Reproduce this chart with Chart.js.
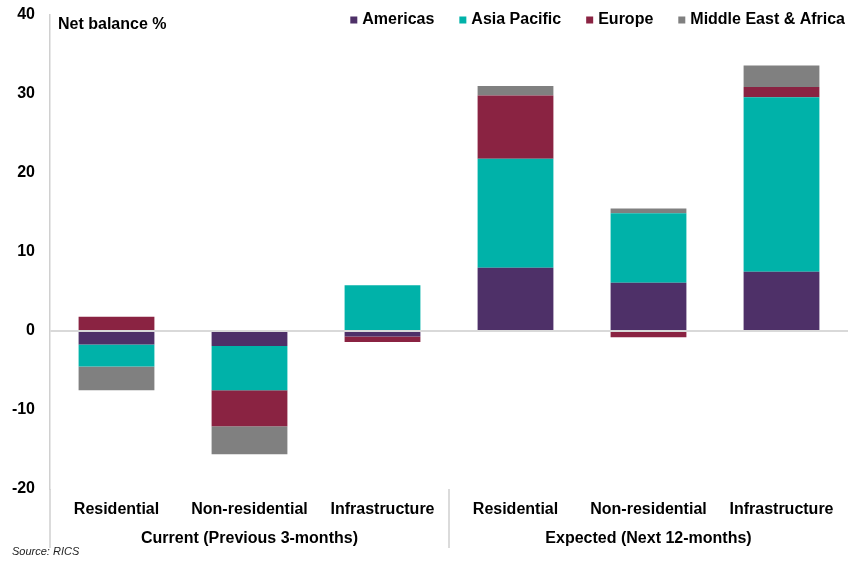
<!DOCTYPE html>
<html>
<head>
<meta charset="utf-8">
<script src="https://cdn.jsdelivr.net/npm/chart.js@4.4.1/dist/chart.umd.min.js"></script>
<style>
  html, body { margin: 0; padding: 0; background: #fff; }
  #wrap { width: 848px; height: 561px; }
</style>
</head>
<body>
<div id="wrap"><canvas id="rics_balance"></canvas></div>
<script>
// sectors on the first axis row, survey period on the second
const sectors = ['Residential', 'Non-residential', 'Infrastructure', 'Residential', 'Non-residential', 'Infrastructure'];
const periods = ['', 'Current (Previous 3-months)', '', '', 'Expected (Next 12-months)', ''];

// net balance % by region
const americas    = [-1.7, -1.9, -0.7, 8.0, 6.1, 7.5];
const asiaPacific = [-2.8, -5.6, 5.8, 13.8, 8.8, 22.1];
const europe      = [1.8, -4.55, -0.7, 8.0, -0.8, 1.3];
const meAfrica    = [-3.0, -3.55, 0, 1.2, 0.6, 2.7];

const yMin = -20, yMax = 40, yStep = 10;

const FONT = "'Liberation Sans', Arial, Helvetica, sans-serif";
Chart.defaults.font.family = FONT;
Chart.defaults.color = '#000';

// legend, y title, source note and the group divider lines
const extras = {
  id: 'extras',
  afterDraw(chart) {
    const c = chart.ctx;
    const area = chart.chartArea;
    c.save();

    // axis line runs down through the label rows, plus divider between the two periods
    c.strokeStyle = '#d0d0d0';
    c.lineWidth = 1.5;
    c.beginPath();
    c.moveTo(area.left, area.bottom);
    c.lineTo(area.left, 548);
    const mid = chart.scales.x.getPixelForValue(2.5);
    c.moveTo(mid, area.bottom);
    c.lineTo(mid, 548);
    c.stroke();

    c.fillStyle = '#000';
    c.textBaseline = 'middle';
    c.font = 'bold 16px ' + FONT;
    c.textAlign = 'left';
    c.fillText('Net balance %', 58, 25);

    // legend, laid out right to left
    let x = 845;
    const items = chart.data.datasets.slice().reverse();
    items.forEach(ds => {
      const w = c.measureText(ds.label).width;
      x -= w;
      c.fillStyle = '#000';
      c.fillText(ds.label, x, 20);
      c.fillStyle = ds.backgroundColor;
      c.fillRect(x - 12, 16.5, 7, 7);
      x -= 12 + 25;
    });

    c.fillStyle = '#222';
    c.font = 'italic 11px ' + FONT;
    c.fillText('Source: RICS', 12, 552);
    c.restore();
  }
};

new Chart(document.getElementById('rics_balance'), {
  type: 'bar',
  data: {
    labels: sectors,
    datasets: [
      { label: 'Americas', data: americas, backgroundColor: '#4e3068' },
      { label: 'Asia Pacific', data: asiaPacific, backgroundColor: '#00b2a9' },
      { label: 'Europe', data: europe, backgroundColor: '#8a2342' },
      { label: 'Middle East & Africa', data: meAfrica, backgroundColor: '#808080' }
    ]
  },
  options: {
    responsive: true,
    maintainAspectRatio: false,
    animation: false,
    layout: { padding: { top: 15, left: 12, right: 0, bottom: 14 } },
    datasets: { bar: { barPercentage: 0.57, categoryPercentage: 1, borderWidth: 0 } },
    plugins: { legend: { display: false }, tooltip: { enabled: false } },
    scales: {
      x: {
        stacked: true,
        weight: 0,
        grid: { display: false, drawTicks: false },
        border: { display: false },
        ticks: { font: { size: 16, weight: 'bold' }, color: '#000', padding: 11, maxRotation: 0, autoSkip: false },
        afterFit: s => { s.height = 30; s.paddingLeft = 0; s.paddingRight = 0; }
      },
      x2: {
        type: 'category',
        position: 'bottom',
        weight: 1,
        offset: true,
        labels: periods,
        grid: { display: false, drawTicks: false },
        border: { display: false },
        ticks: { font: { size: 16, weight: 'bold' }, color: '#000', padding: 10, maxRotation: 0, autoSkip: false },
        afterFit: s => { s.height = 28; s.paddingLeft = 0; s.paddingRight = 0; }
      },
      y: {
        stacked: true,
        min: yMin,
        max: yMax,
        grid: {
          drawTicks: false,
          lineWidth: 2,
          color: ctx => (ctx.tick && ctx.tick.value === 0 ? '#d9d9d9' : 'rgba(0,0,0,0)')
        },
        border: { color: '#d0d0d0', width: 1.5 },
        ticks: { stepSize: yStep, font: { size: 16, weight: 'bold' }, color: '#000', padding: 15 },
        afterFit: s => { s.width = 38; s.paddingTop = 0; s.paddingBottom = 0; }
      }
    }
  },
  plugins: [extras]
});
</script>
</body>
</html>
